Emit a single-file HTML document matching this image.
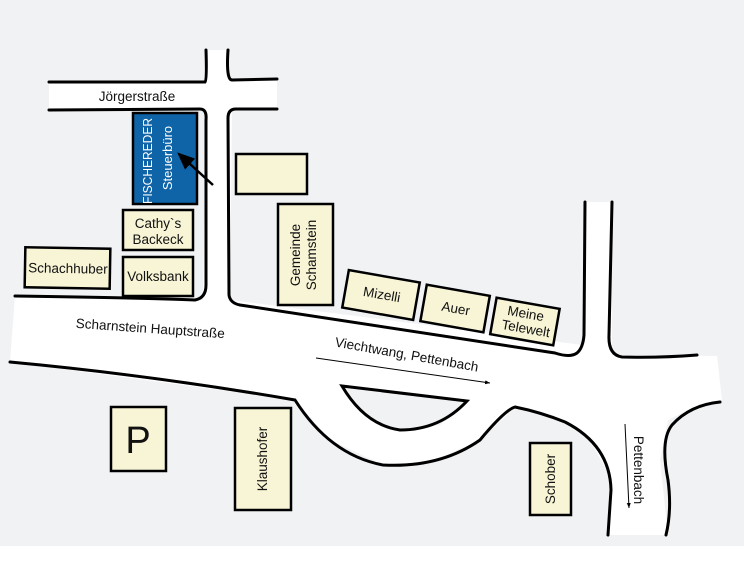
<!DOCTYPE html>
<html><head><meta charset="utf-8"><style>
html,body{margin:0;padding:0;background:#fff;}
svg{display:block;font-family:"Liberation Sans","DejaVu Sans",sans-serif;}
</style></head><body>
<svg width="744" height="562" viewBox="0 0 744 562">
<rect x="0" y="0" width="744" height="546" fill="#f1f2f4"/>
<defs><marker id="ah" markerWidth="8" markerHeight="8" refX="6" refY="4" orient="auto"><path d="M0,1 L7,4 L0,7 z" fill="#000"/></marker>
<marker id="ah2" markerWidth="6" markerHeight="6" refX="5" refY="3" orient="auto"><path d="M0,1 L5,3 L0,5 z" fill="#000"/></marker></defs>
<g fill="#fff" stroke="none">
<polygon points="49,82 206,82 206,50 227,50 230,80 277,80 277,109 232,109 230,300 583,345 585,202 612,202 612,355 717,356 722,400 700,404 668,420 660,460 668,535 608,535 612,480 590,440 560,420 515,407 480,440 430,462 383,465 330,440 295,400 10,362 15,296 203,300 206,110 49,110"/>
</g>
<polygon points="342,386 467,401 440,425 400,430 370,420" fill="#f1f2f4"/>
<g fill="none" stroke="#000" stroke-width="3" stroke-linecap="round">
<path d="M49,82 L205,82 Q207,80 206,50"/>
<path d="M228,50 Q226,80 232,80 L277,79"/>
<path d="M49,110 L200,109 Q207,109 206,120 L206,285 Q206,298 195,300 Q150,298 15,296"/>
<path d="M277,109 L236,109 Q228,109 228,118 L229,295 Q230,303 240,305 L555,353 Q570,358 577,353 Q583,348 584,335 L585,202"/>
<path d="M612,202 L609,335 Q608,355 622,357 Q660,358 697,355"/>
<path d="M10,362 Q150,375 295,400 Q330,455 383,465 Q440,468 480,440 Q505,410 515,407 Q540,412 565,422 Q610,445 611,490 L608,535"/>
<path d="M720,402 Q690,405 672,425 Q660,440 668,480 Q672,510 666,535"/>
<path d="M342,386 L467,401 Q440,430 400,430 Q365,425 342,386 Z"/>
</g>
<g stroke="#000" stroke-width="2.5" fill="#f8f5d6">
<rect x="133" y="113" width="64" height="91" fill="#0f64a8"/>
<rect x="236" y="154" width="71" height="40"/>
<rect x="123" y="210" width="70" height="40"/>
<rect x="123" y="257" width="70" height="39"/>
<rect x="25" y="248" width="85" height="40" transform="rotate(1 67 268)"/>
<rect x="278" y="204" width="55" height="101"/>
<rect x="345" y="276" width="72" height="38" transform="rotate(10 381 295)"/>
<rect x="423" y="290" width="64" height="37" transform="rotate(10 455 309)"/>
<rect x="493" y="303" width="64" height="37" transform="rotate(10 525 321)"/>
<rect x="111" y="407" width="55" height="64"/>
<rect x="235" y="408" width="56" height="102"/>
<rect x="530" y="443" width="41" height="72"/>
</g>
<line x1="213" y1="185" x2="179" y2="154" stroke="#000" stroke-width="2.5" marker-end="url(#ah)"/>
<g font-size="13.5" fill="#111" text-anchor="middle">
<text x="137" y="101">Jörgerstraße</text>
<text x="158" y="228">Cathy`s</text>
<text x="158" y="244">Backeck</text>
<text x="158" y="281">Volksbank</text>
<text x="68" y="273" transform="rotate(1 68 268)">Schachhuber</text>
<text transform="translate(300,255) rotate(-90)">Gemeinde</text>
<text transform="translate(316,255) rotate(-90)">Schamstein</text>
<text transform="translate(381,299) rotate(10)">Mizelli</text>
<text transform="translate(455,313) rotate(10)">Auer</text>
<text transform="translate(525,318) rotate(10)">Meine</text>
<text transform="translate(525,333) rotate(10)">Telewelt</text>
<text transform="translate(267,459) rotate(-90)">Klaushofer</text>
<text transform="translate(555,479) rotate(-90)">Schober</text>
<text x="138" y="453" font-size="38">P</text>
<text transform="translate(150,333) rotate(4)">Scharnstein Hauptstraße</text>
<text transform="translate(406,359) rotate(10)">Viechtwang, Pettenbach</text>
<text transform="translate(634,470) rotate(90)">Pettenbach</text>
</g>
<g fill="#fff" font-size="13" text-anchor="middle">
<text transform="translate(152,161) rotate(-90)" textLength="86" lengthAdjust="spacingAndGlyphs">FISCHEREDER</text>
<text transform="translate(172,158) rotate(-90)">Steuerbüro</text>
</g>
<line x1="316" y1="358" x2="490" y2="383" stroke="#000" stroke-width="1" marker-end="url(#ah2)"/>
<line x1="625" y1="424" x2="629" y2="508" stroke="#000" stroke-width="1" marker-end="url(#ah2)"/>
</svg>
</body></html>
